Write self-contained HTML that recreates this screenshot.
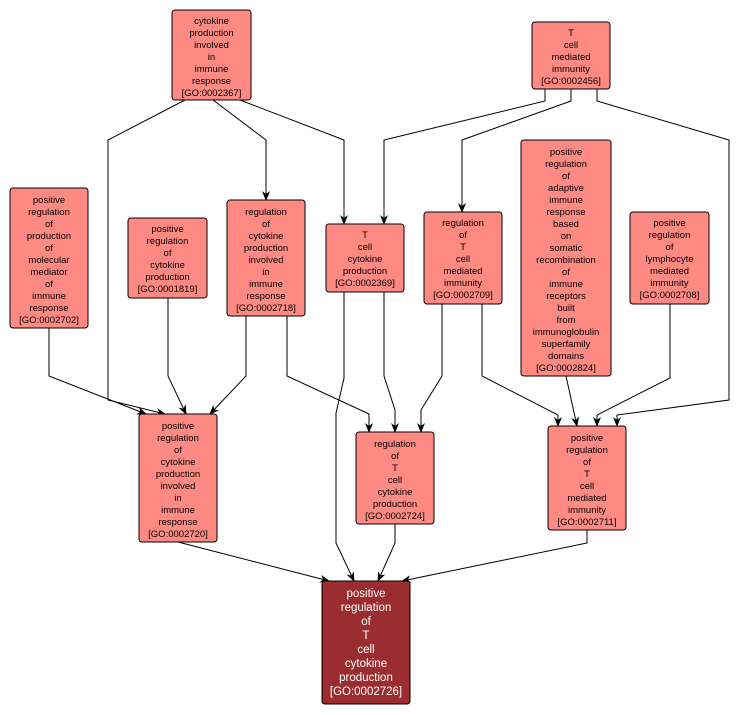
<!DOCTYPE html>
<html><head><style>
body{margin:0;background:#fff;}
svg{display:block;}
text{font-family:"Liberation Sans",sans-serif;font-size:9.5px;fill:#000;text-anchor:middle;}
.n{fill:#ff8a84;stroke:#000;stroke-width:1;}
.e{fill:none;stroke:#000;stroke-width:1;}
</style></head><body>
<svg width="740" height="715" viewBox="0 0 740 715">
<defs><marker id="a" markerWidth="10" markerHeight="10" refX="9" refY="5" orient="auto" markerUnits="userSpaceOnUse"><path d="M0,1 L10,5 L0,9 L3,5 Z" fill="#000"/></marker></defs>
<g class="e" marker-end="url(#a)">
<polyline points="185,100 108,140 108,400 165,414"/>
<polyline points="213,100 266,140 266,200"/>
<polyline points="240,100 344,140 344,224"/>
<polyline points="545,89 545,101 384,140 384,224"/>
<polyline points="571,89 571,101 462,140 462,212"/>
<polyline points="597,89 597,101 729,140 729,400 617,415 617,426"/>
<polyline points="49,328 49,376 146,414"/>
<polyline points="168,298 168,376 186,414"/>
<polyline points="246,316 246,376 210,414"/>
<polyline points="287,316 287,376 369,414 369,432"/>
<polyline points="384,292 384,376 395,410 395,432"/>
<polyline points="442,304 442,376 421,410 421,432"/>
<polyline points="482,304 482,376 558,415 558,426"/>
<polyline points="566,376 577,426"/>
<polyline points="670,304 670,378 597,415 597,426"/>
<polyline points="344,292 344,378 336,413 336,543 354,581"/>
<polyline points="178,542 329,581"/>
<polyline points="395,524 395,543 378,581"/>
<polyline points="587,530 587,543 402,581"/>
</g>
<rect class="n" x="172" y="10" width="79" height="90" rx="3"/>
<text x="211.5" y="24">cytokine</text><text x="211.5" y="36">production</text><text x="211.5" y="48">involved</text><text x="211.5" y="60">in</text><text x="211.5" y="72">immune</text><text x="211.5" y="84">response</text><text x="211.5" y="96">[GO:0002367]</text>
<rect class="n" x="532" y="22" width="78" height="67" rx="3"/>
<text x="571" y="36">T</text><text x="571" y="48">cell</text><text x="571" y="60">mediated</text><text x="571" y="72">immunity</text><text x="571" y="84">[GO:0002456]</text>
<rect class="n" x="10" y="188" width="78" height="140" rx="3"/>
<text x="49" y="203">positive</text><text x="49" y="215">regulation</text><text x="49" y="227">of</text><text x="49" y="239">production</text><text x="49" y="251">of</text><text x="49" y="263">molecular</text><text x="49" y="275">mediator</text><text x="49" y="287">of</text><text x="49" y="299">immune</text><text x="49" y="311">response</text><text x="49" y="323">[GO:0002702]</text>
<rect class="n" x="128" y="218" width="79" height="80" rx="3"/>
<text x="167.5" y="232">positive</text><text x="167.5" y="244">regulation</text><text x="167.5" y="256">of</text><text x="167.5" y="268">cytokine</text><text x="167.5" y="280">production</text><text x="167.5" y="292">[GO:0001819]</text>
<rect class="n" x="227" y="200" width="78" height="116" rx="3"/>
<text x="266" y="215">regulation</text><text x="266" y="227">of</text><text x="266" y="239">cytokine</text><text x="266" y="251">production</text><text x="266" y="263">involved</text><text x="266" y="275">in</text><text x="266" y="287">immune</text><text x="266" y="299">response</text><text x="266" y="311">[GO:0002718]</text>
<rect class="n" x="326" y="224" width="78" height="68" rx="3"/>
<text x="365" y="238">T</text><text x="365" y="250">cell</text><text x="365" y="262">cytokine</text><text x="365" y="274">production</text><text x="365" y="286">[GO:0002369]</text>
<rect class="n" x="424" y="212" width="78" height="92" rx="3"/>
<text x="463" y="226">regulation</text><text x="463" y="238">of</text><text x="463" y="250">T</text><text x="463" y="262">cell</text><text x="463" y="274">mediated</text><text x="463" y="286">immunity</text><text x="463" y="298">[GO:0002709]</text>
<rect class="n" x="521" y="140" width="90" height="236" rx="3"/>
<text x="566" y="155">positive</text><text x="566" y="167">regulation</text><text x="566" y="179">of</text><text x="566" y="191">adaptive</text><text x="566" y="203">immune</text><text x="566" y="215">response</text><text x="566" y="227">based</text><text x="566" y="239">on</text><text x="566" y="251">somatic</text><text x="566" y="263">recombination</text><text x="566" y="275">of</text><text x="566" y="287">immune</text><text x="566" y="299">receptors</text><text x="566" y="311">built</text><text x="566" y="323">from</text><text x="566" y="335">immunoglobulin</text><text x="566" y="347">superfamily</text><text x="566" y="359">domains</text><text x="566" y="371">[GO:0002824]</text>
<rect class="n" x="630" y="212" width="79" height="92" rx="3"/>
<text x="669.5" y="226">positive</text><text x="669.5" y="238">regulation</text><text x="669.5" y="250">of</text><text x="669.5" y="262">lymphocyte</text><text x="669.5" y="274">mediated</text><text x="669.5" y="286">immunity</text><text x="669.5" y="298">[GO:0002708]</text>
<rect class="n" x="139" y="414" width="78" height="128" rx="3"/>
<text x="178" y="429">positive</text><text x="178" y="441">regulation</text><text x="178" y="453">of</text><text x="178" y="465">cytokine</text><text x="178" y="477">production</text><text x="178" y="489">involved</text><text x="178" y="501">in</text><text x="178" y="513">immune</text><text x="178" y="525">response</text><text x="178" y="537">[GO:0002720]</text>
<rect class="n" x="356" y="432" width="78" height="92" rx="3"/>
<text x="395" y="447">regulation</text><text x="395" y="459">of</text><text x="395" y="471">T</text><text x="395" y="483">cell</text><text x="395" y="495">cytokine</text><text x="395" y="507">production</text><text x="395" y="519">[GO:0002724]</text>
<rect class="n" x="548" y="426" width="78" height="104" rx="3"/>
<text x="587" y="441">positive</text><text x="587" y="453">regulation</text><text x="587" y="465">of</text><text x="587" y="477">T</text><text x="587" y="489">cell</text><text x="587" y="501">mediated</text><text x="587" y="513">immunity</text><text x="587" y="525">[GO:0002711]</text>
<rect x="322" y="581" width="88" height="123" rx="3" fill="#9b2d30" stroke="#000"/>
<g style="font-size:11.5px">
<text x="366" y="597" style="fill:#fff;font-size:11.5px">positive</text><text x="366" y="611" style="fill:#fff;font-size:11.5px">regulation</text><text x="366" y="625" style="fill:#fff;font-size:11.5px">of</text><text x="366" y="639" style="fill:#fff;font-size:11.5px">T</text><text x="366" y="653" style="fill:#fff;font-size:11.5px">cell</text><text x="366" y="667" style="fill:#fff;font-size:11.5px">cytokine</text><text x="366" y="681" style="fill:#fff;font-size:11.5px">production</text><text x="366" y="695" style="fill:#fff;font-size:11.5px">[GO:0002726]</text>
</g>
</svg>
</body></html>
